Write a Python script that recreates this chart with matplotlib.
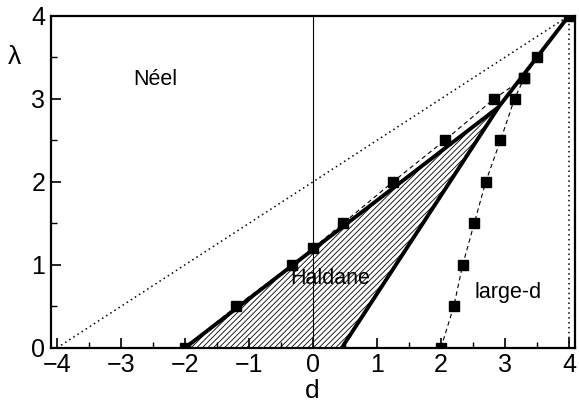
import matplotlib
matplotlib.use("Agg")
import matplotlib.pyplot as plt

plt.rcParams["font.family"] = ["Liberation Sans", "DejaVu Sans"]
plt.rcParams["hatch.linewidth"] = 0.6

# Neel / Haldane transition points (d, lambda)
neel_d = [-2.0, -1.2, -0.33, 0.0, 0.47, 1.25, 2.06, 2.83, 3.3, 3.5, 4.0]
neel_lam = [0.0, 0.5, 1.0, 1.2, 1.5, 2.0, 2.5, 3.0, 3.25, 3.5, 4.0]

# Haldane / large-d transition points
large_d = [2.0, 2.2, 2.34, 2.52, 2.7, 2.93, 3.15, 3.3]
large_lam = [0.0, 0.5, 1.0, 1.5, 2.0, 2.5, 3.0, 3.25]

# hatched Haldane region (corners) and bounding thick lines
hald_d = [-2.0, 0.45, 2.9]
hald_lam = [0.0, 0.0, 2.9]
upper_d = [-2.0, 2.9, 4.0]
upper_lam = [0.0, 2.9, 4.0]
lower_d = [0.45, 2.9]
lower_lam = [0.0, 2.9]

# dotted reference line lambda = (d + 4) / 2
ref_d = [-4.0, 4.0]
ref_lam = [0.0, 4.0]

fig = plt.figure(figsize=(5.79, 4.05), dpi=100)
ax = fig.add_axes([0.088, 0.141, 0.905, 0.820])

ax.fill(hald_d, hald_lam, facecolor="white", edgecolor="black",
        hatch="//////", linewidth=0.4, zorder=1)
ax.plot(ref_d, ref_lam, color="black", ls=(0, (1, 2.2)), lw=1.1, zorder=2)
ax.plot([4, 4], [0, 4], color="black", ls=(0, (1, 2.2)), lw=1.1, zorder=2)
ax.plot([0, 0], [0, 4], color="black", lw=0.8, zorder=2)

ax.plot(upper_d, upper_lam, color="black", lw=2.8, solid_capstyle="butt", zorder=3)
ax.plot(lower_d, lower_lam, color="black", lw=2.8, solid_capstyle="butt", zorder=3)

ax.plot(neel_d, neel_lam, color="black", ls=(0, (4, 3)), lw=0.8,
        marker="s", ms=7.5, mfc="black", mec="black", zorder=4)
ax.plot(large_d, large_lam, color="black", ls=(0, (4, 3)), lw=0.8,
        marker="s", ms=7.5, mfc="black", mec="black", zorder=4)

ax.text(-2.47, 3.23, "Néel", fontsize=15.5, ha="center", va="center")
ax.text(0.27, 0.84, "Haldane", fontsize=15.5, ha="center", va="center")
ax.text(3.05, 0.67, "large-d", fontsize=15.5, ha="center", va="center")

ax.set_xlim(-4.094, 4.094)
ax.set_ylim(0, 4)
ax.set_xticks(range(-4, 5))
ax.set_yticks(range(0, 5))
ax.set_xticks([x + 0.5 for x in range(-4, 4)], minor=True)
ax.set_yticks([y + 0.5 for y in range(0, 4)], minor=True)
ax.tick_params(which="both", direction="in", top=False, right=False)
ax.tick_params(which="major", length=7, width=1.2, labelsize=18)
ax.tick_params(which="minor", length=4, width=1.0)
ax.tick_params(axis="x", pad=4)
ax.tick_params(axis="y", pad=4)
for s in ax.spines.values():
    s.set_linewidth(1.6)

ax.set_xlabel("d", fontsize=19)
ax.xaxis.set_label_coords(0.498, -0.093)
ax.set_ylabel("λ", fontsize=19, rotation=0)
ax.yaxis.set_label_coords(-0.069, 0.84)

fig.savefig("out.png", dpi=100)
